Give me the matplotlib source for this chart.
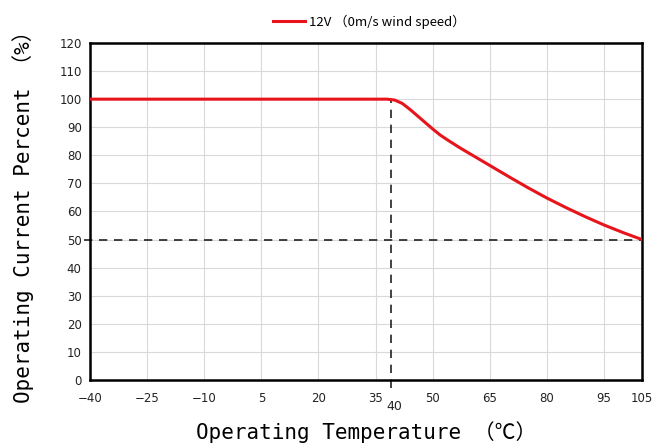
import matplotlib.pyplot as plt

# derating curve
temp_c = [-40, -20, 0, 20, 35, 38, 40, 42, 44, 47, 50, 52, 54, 57, 60, 65, 70, 75, 80, 85, 90, 95, 100, 105]
current_pct = [100, 100, 100, 100, 100, 100, 99.7, 98.5, 96.4, 92.9, 89.4, 87.2, 85.4, 82.8, 80.4, 76.4, 72.4, 68.5, 64.8,
               61.4, 58.2, 55.2, 52.5, 50.0]

x_ticks = [-40, -25, -10, 5, 20, 35, 50, 65, 80, 95, 105]
y_ticks = list(range(0, 121, 10))
marker_temp = 40
marker_pct = 50

fig = plt.figure(figsize=(6.54, 4.46), dpi=100)
ax = fig.add_axes([0.1376, 0.148, 0.8441, 0.7556])

ax.plot(temp_c, current_pct, color="#e8141b", lw=2.2, label="12V （0m/s wind speed）", zorder=3)

# reference lines
ax.plot([-41.5, 105], [marker_pct, marker_pct], color="#222222", lw=1.2, ls=(0, (5, 4)), clip_on=False, zorder=2)
ax.plot([marker_temp - 1, marker_temp - 1], [-3, 100], color="#222222", lw=1.2, ls=(0, (5, 4)),
        clip_on=False, zorder=2)

ax.set_xlim(-40, 105)
ax.set_ylim(0, 120)
ax.set_xticks(x_ticks)
ax.set_yticks(y_ticks)
ax.tick_params(length=0, labelsize=8.5, colors="#222222", pad=6)
ax.tick_params(axis="x", pad=9)
ax.grid(True, color="#d9d9d9", lw=0.8)
ax.set_axisbelow(True)
for s in ax.spines.values():
    s.set_linewidth(1.8)
    s.set_color("black")

# the extra "40" label sits a little lower than the others
ax.text(marker_temp, -9.5, "40", ha="center", va="center", fontsize=9, color="#222222")

lab_font = ["DejaVu Sans Mono", "Noto Sans CJK SC"]
ax.set_xlabel("Operating Temperature （℃）", family=lab_font, fontsize=15, labelpad=11)
ax.set_ylabel("Operating Current Percent （%）", family=lab_font, fontsize=15, labelpad=18)

leg = ax.legend(loc="center left", bbox_to_anchor=(0.4, 0.952), bbox_transform=fig.transFigure,
                frameon=False, handlelength=2.4, handletextpad=0.3,
                prop={"family": ["Noto Sans CJK SC", "DejaVu Sans"], "size": 9.5})

fig.savefig("out.png", dpi=100)
